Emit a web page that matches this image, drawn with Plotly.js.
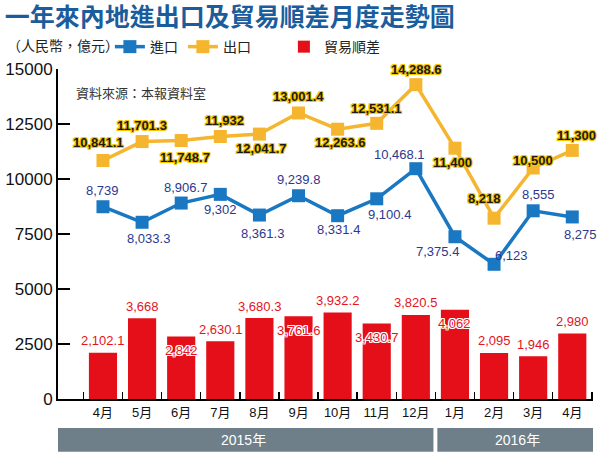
<!DOCTYPE html>
<html>
<head>
<meta charset="utf-8">
<script src="https://cdn.plot.ly/plotly-3.0.1.min.js"></script>
<style>html,body{margin:0;padding:0;background:#fff;}</style>
</head>
<body>
<div id="chart" style="width:600px;height:452px;"></div>
<script>
// ---- data ----
const months = ["4月","5月","6月","7月","8月","9月","10月","11月","12月","1月","2月","3月","4月 "];
const tickLabels = ["4月","5月","6月","7月","8月","9月","10月","11月","12月","1月","2月","3月","4月"];
const imports = [8739, 8033.3, 8906.7, 9302, 8361.3, 9239.8, 8331.4, 9100.4, 10468.1, 7375.4, 6123, 8555, 8275];
const exports_ = [10841.1, 11701.3, 11748.7, 11932, 12041.7, 13001.4, 12263.6, 12531.1, 14288.6, 11400, 8218, 10500, 11300];
const surplus = [2102.1, 3668, 2842, 2630.1, 3680.3, 3761.6, 3932.2, 3430.7, 3820.5, 4062, 2095, 1946, 2980];
const yearLabels = ["2015年", "2016年"];

// ---- label placement (style) ----
const impOff = [[0,16],[6,-16],[4,16],[0,-15],[3,-18],[0,16],[1,-14],[13,-16],[-16,14],[-17,-15],[17,9],[5,16],[8,-18]];
const expOff = [[-4,18],[0,16],[4,-17],[4,16],[2,-14],[0,16],[3,-13],[0,15],[1,15],[-2,-14],[-10,20],[0,8],[4,15]];
const barInside = [false,false,true,false,false,true,false,true,false,true,false,false,false];

const fmt = v => v.toLocaleString('en-US', {maximumFractionDigits: 1});
const NUMFONT = "Liberation Sans, Arial, Noto Sans CJK TC, sans-serif";
const CJK = "Noto Sans CJK TC, sans-serif";
const BLUE = "#1a78c2", ORANGE = "#f5b52e", RED = "#e50f1a";

const traces = [
  {type:'bar', x: months, y: surplus, name:'貿易順差', marker:{color:RED}, legendrank:3, hoverinfo:'skip'},
  {type:'scatter', mode:'lines+markers', x: months, y: imports, name:'進口', legendrank:1,
   line:{color:BLUE, width:3.5}, marker:{symbol:'square', size:13, color:BLUE}},
  {type:'scatter', mode:'lines+markers', x: months, y: exports_, name:'出口　　', legendrank:2,
   line:{color:ORANGE, width:3.5}, marker:{symbol:'square', size:13, color:ORANGE}}
];

const ann = [];
const outlineY = "-1px -1px 0 #f7c600, 1px -1px 0 #f7c600, -1px 1px 0 #f7c600, 1px 1px 0 #f7c600, 0 -1px 0 #f7c600, 0 1px 0 #f7c600, -1px 0 0 #f7c600, 1px 0 0 #f7c600";
const outlineW = "-1px -1px 0 #fff, 1px -1px 0 #fff, -1px 1px 0 #fff, 1px 1px 0 #fff, 0 -1px 0 #fff, 0 1px 0 #fff, -1px 0 0 #fff, 1px 0 0 #fff";
months.forEach((m, i) => {
  ann.push({x:m, y:imports[i], text:fmt(imports[i]), showarrow:false, xshift:impOff[i][0], yshift:impOff[i][1],
    yanchor:'middle', font:{family:NUMFONT, size:13, color:'#2b3990'}});
  ann.push({x:m, y:exports_[i], text:'<b>'+fmt(exports_[i])+'</b>', showarrow:false, xshift:expOff[i][0], yshift:expOff[i][1],
    yanchor:'middle', font:{family:NUMFONT, size:13, color:'#1a1a1a', shadow: outlineY}});
  ann.push({x:m, y:surplus[i], text:fmt(surplus[i]), showarrow:false, yshift: barInside[i] ? -14 : 12,
    yanchor:'middle', font:{family:NUMFONT, size:13, color:'#e3141c', shadow: barInside[i] ? outlineW : 'none'}});
});

ann.push({xref:'paper', yref:'paper', x:0.03, y:0.93, xanchor:'left', yanchor:'middle', showarrow:false,
  text:'資料來源：本報資料室', font:{family:CJK, size:13, color:'#333'}});
ann.push({xref:'paper', yref:'paper', x:-0.1, y:1.073, xanchor:'left', yanchor:'middle', showarrow:false,
  text:'（人民幣，億元）', font:{family:CJK, size:14, color:'#222'}});
ann.push({xref:'x', yref:'paper', x:3.6, y:-0.124, xanchor:'center', yanchor:'middle', showarrow:false, text:yearLabels[0],
  font:{family:NUMFONT, size:14, color:'#fff'}});
ann.push({xref:'x', yref:'paper', x:10.6, y:-0.124, xanchor:'center', yanchor:'middle', showarrow:false, text:yearLabels[1],
  font:{family:NUMFONT, size:14, color:'#fff'}});

const shapes = [
  {type:'rect', xref:'x', yref:'paper', x0:-1.23, x1:8.45, y0:-0.16, y1:-0.088, fillcolor:'#6e7f8a', line:{width:0}, layer:'below'},
  {type:'rect', xref:'x', yref:'paper', x0:8.55, x1:12.63, y0:-0.16, y1:-0.088, fillcolor:'#6e7f8a', line:{width:0}, layer:'below'}
];

const layout = {
  width:600, height:452,
  margin:{l:58, r:7, t:69, b:53},
  paper_bgcolor:'#fff', plot_bgcolor:'#fff',
  title:{text:'<b>一年來內地進出口及貿易順差月度走勢圖</b>', x:0.008, xanchor:'left', xref:'container',
    y:0.9615, yref:'container', yanchor:'middle', font:{family:CJK, size:25, color:'#1b5d9c'}},
  bargap:0.28,
  showlegend:true,
  legend:{orientation:'h', x:0.097, y:1.115, xanchor:'left', yanchor:'top', font:{family:CJK, size:14, color:'#222'},
    bgcolor:'rgba(0,0,0,0)', traceorder:'normal'},
  xaxis:{type:'category', range:[-1.15, 12.53], tickmode:'array', tickvals:months, ticktext:tickLabels,
    tickson:'boundaries', ticks:'inside', ticklen:7, tickwidth:1.5, tickcolor:'#000',
    showline:true, linecolor:'#000', linewidth:2, showgrid:false, zeroline:false,
    tickfont:{family:NUMFONT, size:13, color:'#111'}, fixedrange:true},
  yaxis:{range:[0,15000], tickvals:[0,2500,5000,7500,10000,12500,15000], ticktext:['0','2500','5000','7500','10000','12500','15000'],
    ticks:'inside', ticklen:12, tickwidth:2, tickcolor:'#000', showline:true, linecolor:'#000', linewidth:2,
    showgrid:false, zeroline:false, tickfont:{family:NUMFONT, size:17, color:'#111'}, fixedrange:true},
  annotations: ann,
  shapes: shapes
};

Plotly.newPlot('chart', traces, layout, {displayModeBar:false, staticPlot:true});
</script>
</body>
</html>
